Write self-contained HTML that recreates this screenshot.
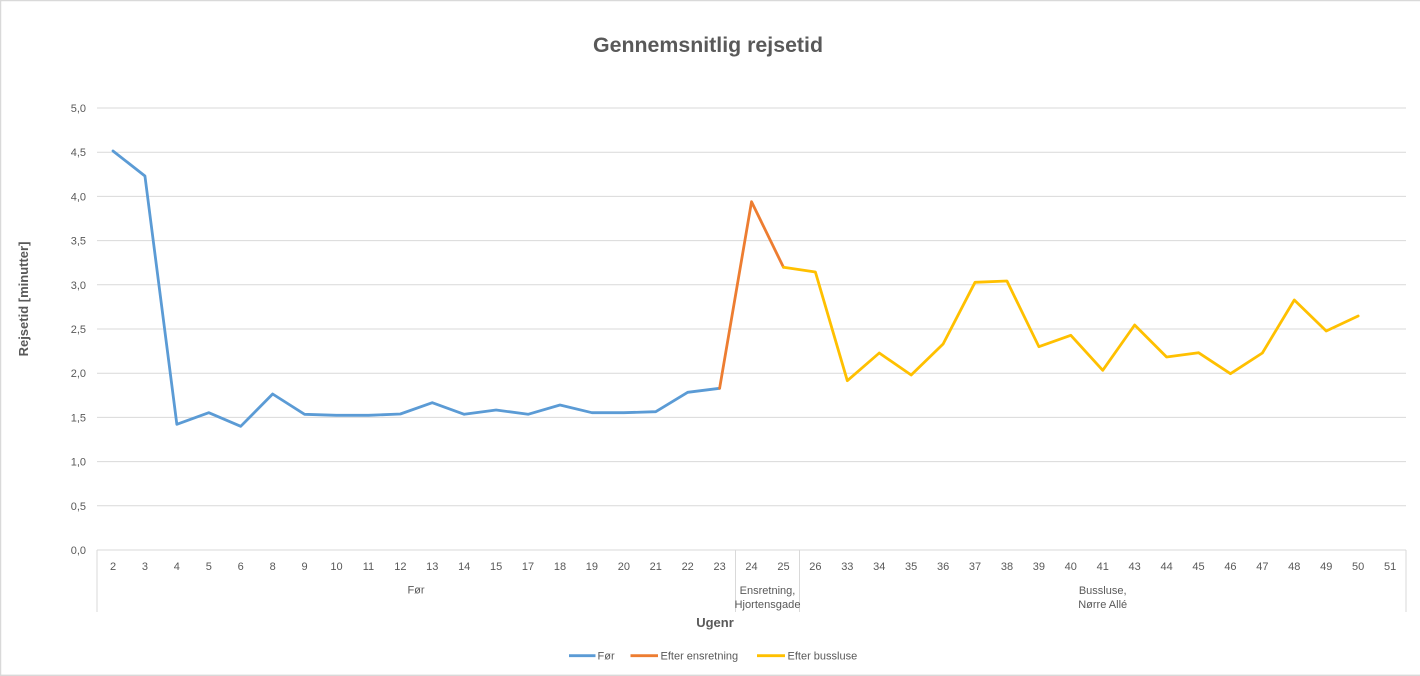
<!DOCTYPE html>
<html><head><meta charset="utf-8"><style>
html,body{margin:0;padding:0;background:#fff;}
svg{display:block;font-family:"Liberation Sans",Arial,sans-serif;}
</style></head><body>
<svg width="1420" height="676" viewBox="0 0 1420 676" xmlns="http://www.w3.org/2000/svg">
<rect x="0" y="0" width="1420" height="676" fill="#fff"/>
<g stroke="#d9d9d9" stroke-width="1.3">
<line x1="0" y1="0.6" x2="1420" y2="0.6"/>
<line x1="0.6" y1="0" x2="0.6" y2="676"/>
<line x1="0" y1="675.3" x2="1420" y2="675.3"/>
</g>
<text x="708" y="52" text-anchor="middle" font-size="21" font-weight="bold" fill="#595959" textLength="230" lengthAdjust="spacingAndGlyphs">Gennemsnitlig rejsetid</text>
<g stroke="#d9d9d9" stroke-width="1">
<line x1="97" y1="108" x2="1406" y2="108"/>
<line x1="97" y1="152.2" x2="1406" y2="152.2"/>
<line x1="97" y1="196.4" x2="1406" y2="196.4"/>
<line x1="97" y1="240.6" x2="1406" y2="240.6"/>
<line x1="97" y1="284.8" x2="1406" y2="284.8"/>
<line x1="97" y1="329" x2="1406" y2="329"/>
<line x1="97" y1="373.2" x2="1406" y2="373.2"/>
<line x1="97" y1="417.4" x2="1406" y2="417.4"/>
<line x1="97" y1="461.6" x2="1406" y2="461.6"/>
<line x1="97" y1="505.8" x2="1406" y2="505.8"/>
<line x1="97" y1="550" x2="1406" y2="550"/>
<line x1="97" y1="550" x2="97" y2="612"/>
<line x1="735.5" y1="550" x2="735.5" y2="612"/>
<line x1="799.5" y1="550" x2="799.5" y2="612"/>
<line x1="1406" y1="550" x2="1406" y2="612"/>
</g>
<g font-size="11" fill="#595959" text-anchor="end">
<text x="86" y="112">5,0</text>
<text x="86" y="156.2">4,5</text>
<text x="86" y="200.4">4,0</text>
<text x="86" y="244.6">3,5</text>
<text x="86" y="288.8">3,0</text>
<text x="86" y="333">2,5</text>
<text x="86" y="377.2">2,0</text>
<text x="86" y="421.4">1,5</text>
<text x="86" y="465.6">1,0</text>
<text x="86" y="509.8">0,5</text>
<text x="86" y="554">0,0</text>
</g>
<g font-size="11" fill="#595959" text-anchor="middle">
<text x="113" y="570">2</text>
<text x="144.93" y="570">3</text>
<text x="176.85" y="570">4</text>
<text x="208.78" y="570">5</text>
<text x="240.71" y="570">6</text>
<text x="272.64" y="570">8</text>
<text x="304.56" y="570">9</text>
<text x="336.49" y="570">10</text>
<text x="368.42" y="570">11</text>
<text x="400.34" y="570">12</text>
<text x="432.27" y="570">13</text>
<text x="464.2" y="570">14</text>
<text x="496.12" y="570">15</text>
<text x="528.05" y="570">17</text>
<text x="559.98" y="570">18</text>
<text x="591.91" y="570">19</text>
<text x="623.83" y="570">20</text>
<text x="655.76" y="570">21</text>
<text x="687.69" y="570">22</text>
<text x="719.61" y="570">23</text>
<text x="751.54" y="570">24</text>
<text x="783.47" y="570">25</text>
<text x="815.39" y="570">26</text>
<text x="847.32" y="570">33</text>
<text x="879.25" y="570">34</text>
<text x="911.18" y="570">35</text>
<text x="943.1" y="570">36</text>
<text x="975.03" y="570">37</text>
<text x="1006.96" y="570">38</text>
<text x="1038.88" y="570">39</text>
<text x="1070.81" y="570">40</text>
<text x="1102.74" y="570">41</text>
<text x="1134.66" y="570">43</text>
<text x="1166.59" y="570">44</text>
<text x="1198.52" y="570">45</text>
<text x="1230.45" y="570">46</text>
<text x="1262.37" y="570">47</text>
<text x="1294.3" y="570">48</text>
<text x="1326.23" y="570">49</text>
<text x="1358.15" y="570">50</text>
<text x="1390.08" y="570">51</text>
<text x="416" y="593.5">Før</text>
<text x="767.5" y="594">Ensretning,</text>
<text x="767.5" y="608" textLength="66" lengthAdjust="spacingAndGlyphs">Hjortensgade</text>
<text x="1102.7" y="594">Bussluse,</text>
<text x="1102.7" y="608">Nørre Allé</text>
</g>
<text x="715" y="627" text-anchor="middle" font-size="13" font-weight="bold" fill="#595959">Ugenr</text>
<text transform="translate(28,299) rotate(-90)" text-anchor="middle" font-size="13" font-weight="bold" fill="#595959">Rejsetid [minutter]</text>
<g fill="none" stroke-width="2.8" stroke-linejoin="round" stroke-linecap="round">
<polyline stroke="#5b9bd5" points="113,151 144.93,176 176.85,424.3 208.78,412.7 240.71,426.3 272.64,394 304.56,414.3 336.49,415.3 368.42,415.3 400.34,414 432.27,402.7 464.2,414.3 496.12,410 528.05,414.3 559.98,405 591.91,412.7 623.83,412.7 655.76,411.7 687.69,392.3 719.61,388.3"/>
<polyline stroke="#ed7d31" points="719.61,388.3 751.54,201.7 783.47,267.3"/>
<polyline stroke="#ffc000" points="783.47,267.3 815.39,272 847.32,380.7 879.25,353 911.18,375 943.1,344 975.03,282.3 1006.96,281 1038.88,346.7 1070.81,335.3 1102.74,370.3 1134.66,325 1166.59,357 1198.52,352.7 1230.45,373.7 1262.37,353 1294.3,300 1326.23,331 1358.15,316"/>
</g>
<g stroke-width="2.8">
<line x1="569" y1="655.7" x2="595.5" y2="655.7" stroke="#5b9bd5"/>
<line x1="630.5" y1="655.7" x2="658" y2="655.7" stroke="#ed7d31"/>
<line x1="757" y1="655.7" x2="785" y2="655.7" stroke="#ffc000"/>
</g>
<g font-size="11" fill="#595959">
<text x="597.5" y="659.5">Før</text>
<text x="660.5" y="659.5">Efter ensretning</text>
<text x="787.5" y="659.5">Efter bussluse</text>
</g>
</svg>
</body></html>
